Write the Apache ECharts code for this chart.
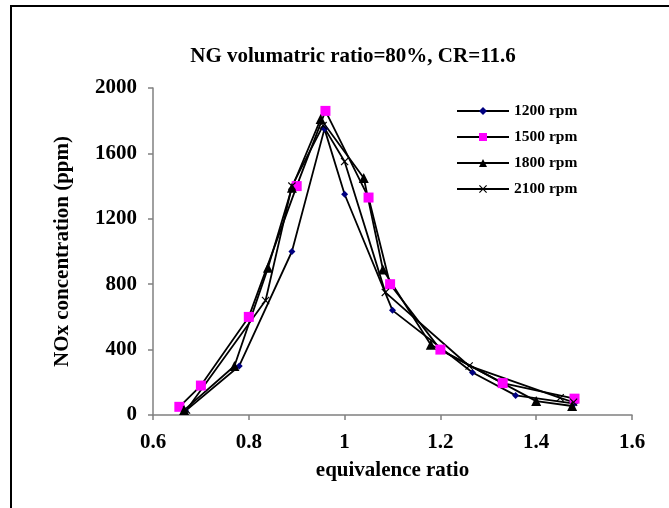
<!DOCTYPE html>
<html><head><meta charset="utf-8">
<script src="https://cdn.jsdelivr.net/npm/echarts@6/dist/echarts.min.js"></script>
<style>html,body{margin:0;padding:0;background:#fff}#c{width:669px;height:508px}</style>
</head><body><div id="c"></div>
<script>
var seriesNames = ['1200 rpm', '1500 rpm', '1800 rpm', '2100 rpm'];
var data1200 = [[0.668,25],[0.78,300],[0.89,1000],[0.958,1750],[1.0,1350],[1.1,640],[1.267,260],[1.357,120],[1.48,70]];
var data1500 = [[0.655,50],[0.70,180],[0.80,600],[0.90,1400],[0.96,1860],[1.05,1330],[1.095,800],[1.20,400],[1.33,195],[1.48,100]];
var data1800 = [[0.665,30],[0.77,300],[0.84,900],[0.89,1390],[0.95,1810],[1.04,1450],[1.08,890],[1.18,430],[1.40,85],[1.475,55]];
var data2100 = [[0.67,30],[0.835,700],[0.89,1400],[0.955,1770],[1.0,1550],[1.085,750],[1.26,300],[1.45,105],[1.478,78]];
var xTicks = [0.6, 0.8, 1.0, 1.2, 1.4, 1.6];
var yTicks = [0, 400, 800, 1200, 1600, 2000];

var font = 'Liberation Serif';
var crossPath = 'path://M0,1L1,0L5,4L9,0L10,1L6,5L10,9L9,10L5,6L1,10L0,9L4,5Z';
function mk(name, data, symbol, size, color) {
  return {
    name: name, type: 'line', data: data, symbol: symbol, symbolSize: size,
    showAllSymbol: true,
    lineStyle: { color: '#000', width: 1.8 },
    itemStyle: { color: color, opacity: 1 },
    emphasis: { disabled: true },
    animation: false
  };
}
var chart = echarts.init(document.getElementById('c'));
chart.setOption({
  backgroundColor: '#fff',
  animation: false,
  graphic: [{
    type: 'rect', shape: { x: 11, y: 6, width: 700, height: 600 },
    style: { fill: 'none', stroke: '#000', lineWidth: 2 }, silent: true, z: -1
  }],
  title: {
    text: 'NG volumatric ratio=80%, CR=11.6', left: 348, top: 41, textAlign: 'center',
    textStyle: { fontFamily: font, fontWeight: 'bold', fontSize: 21, color: '#000' }
  },
  legend: {
    data: seriesNames, orient: 'vertical', left: 451, top: 98,
    itemWidth: 52, itemHeight: 10, itemGap: 10,
    textStyle: { fontFamily: font, fontWeight: 'bold', fontSize: 15.5, color: '#000' }
  },
  grid: { left: 153, right: 37, top: 88, bottom: 93, containLabel: false },
  xAxis: {
    type: 'value', min: xTicks[0], max: xTicks[xTicks.length-1], interval: 0.2,
    name: 'equivalence ratio', nameLocation: 'middle', nameGap: 45,
    nameTextStyle: { fontFamily: font, fontWeight: 'bold', fontSize: 21, color: '#000' },
    axisLine: { lineStyle: { color: '#808080', width: 1.5 } },
    axisTick: { show: true, inside: false, length: 5, lineStyle: { color: '#808080', width: 1.5 } },
    axisLabel: { fontFamily: font, fontWeight: 'bold', fontSize: 21, color: '#000', margin: 17,
      formatter: function (v) { return String(Math.round(v * 10) / 10); } },
    splitLine: { show: false }
  },
  yAxis: {
    type: 'value', min: yTicks[0], max: yTicks[yTicks.length-1], interval: 400,
    name: 'NOx concentration (ppm)', nameLocation: 'middle', nameGap: 80, nameRotate: 90,
    nameTextStyle: { fontFamily: font, fontWeight: 'bold', fontSize: 21, color: '#000' },
    axisLine: { show: true, lineStyle: { color: '#808080', width: 1.5 } },
    axisTick: { show: true, inside: false, length: 5, lineStyle: { color: '#808080', width: 1.5 } },
    axisLabel: { fontFamily: font, fontWeight: 'bold', fontSize: 21, color: '#000', margin: 16,
      formatter: function (v) { return String(v); } },
    splitLine: { show: false }
  },
  series: [
    mk(seriesNames[0], data1200, 'diamond', 7, '#000080'),
    mk(seriesNames[1], data1500, 'rect', 10, '#ff00ff'),
    mk(seriesNames[2], data1800, 'triangle', 10, '#000'),
    mk(seriesNames[3], data2100, crossPath, 8, '#000')
  ]
});
</script></body></html>
